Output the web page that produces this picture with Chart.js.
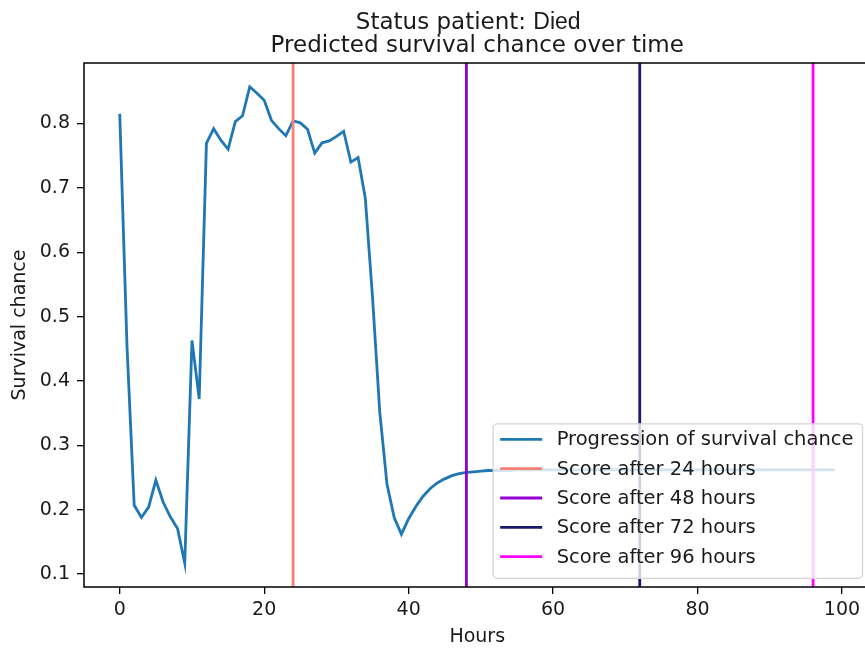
<!DOCTYPE html>
<html>
<head>
<meta charset="utf-8">
<script src="https://cdn.jsdelivr.net/npm/chart.js@4.4.0/dist/chart.umd.min.js"></script>
<style>
  html, body { margin: 0; padding: 0; background: #fff; overflow: hidden; }
  #wrap { width: 872px; height: 650px; }
</style>
</head>
<body>
<div id="wrap"><canvas id="survival_chart" width="872" height="650"></canvas></div>
<script>
// Predicted survival chance, one value per hour (hour = index)
var survival = [
  0.815, 0.455, 0.207, 0.188, 0.204, 0.246, 0.212, 0.189, 0.171, 0.117,
  0.463, 0.372, 0.769, 0.792, 0.774, 0.760, 0.803, 0.812, 0.857, 0.847,
  0.836, 0.805, 0.792, 0.781, 0.804, 0.801, 0.791, 0.754, 0.770, 0.773,
  0.780, 0.788, 0.740, 0.747, 0.684, 0.530, 0.352, 0.240, 0.188, 0.162,
  0.186, 0.205, 0.221, 0.233, 0.242, 0.248, 0.253, 0.256, 0.258, 0.259,
  0.260, 0.261, 0.261, 0.261, 0.261, 0.262, 0.262, 0.262, 0.262, 0.262,
  0.262, 0.262, 0.262, 0.262, 0.262, 0.262, 0.262, 0.262, 0.262, 0.262,
  0.262, 0.262, 0.262, 0.262, 0.262, 0.262, 0.262, 0.262, 0.262, 0.262,
  0.262, 0.262, 0.262, 0.262, 0.262, 0.262, 0.262, 0.262, 0.262, 0.262,
  0.262, 0.262, 0.262, 0.262, 0.262, 0.262, 0.262, 0.262, 0.262, 0.262
];
var scoreHours = [24, 48, 72, 96];
var scoreColors = ['#fa8072', '#9400d3', '#191970', '#ff00ff'];
var legendLabels = [
  'Progression of survival chance',
  'Score after 24 hours',
  'Score after 48 hours',
  'Score after 72 hours',
  'Score after 96 hours'
];
var xTicks = [0, 20, 40, 60, 80, 100];
var yTicks = [0.1, 0.2, 0.3, 0.4, 0.5, 0.6, 0.7, 0.8];
var patientStatus = 'Died';

var lineBlue = '#1f77b4';
var textColor = '#1a1a1a';
Chart.defaults.font.family = '"DejaVu Sans"';

// axis limits with 5% margins, like matplotlib
var xLast = survival.length - 1;
var xMin = -0.05 * xLast, xMax = xLast + 0.05 * xLast;
var sMin = Math.min.apply(null, survival), sMax = Math.max.apply(null, survival);
var yMin = sMin - 0.05 * (sMax - sMin), yMax = sMax + 0.05 * (sMax - sMin);

var datasets = [{
    label: legendLabels[0],
    data: survival.map(function(v, i) { return { x: i, y: v }; }),
    borderColor: lineBlue,
    borderWidth: 2.8,
    pointRadius: 0,
    tension: 0,
    order: 1
}];
scoreHours.forEach(function(h, i) {
    datasets.push({
        label: legendLabels[i + 1],
        data: [{ x: h, y: yMin }, { x: h, y: yMax }],
        borderColor: scoreColors[i],
        borderWidth: 2.8,
        pointRadius: 0,
        order: 0
    });
});

// frame + legend box (drawn over the lines)
var frameAndLegend = {
    id: 'frameAndLegend',
    afterDatasetsDraw: function(chart) {
        var ctx = chart.ctx, ca = chart.chartArea;
        ctx.save();
        ctx.strokeStyle = '#000';
        ctx.lineWidth = 1.5;
        ctx.strokeRect(ca.left, ca.top, ca.right - ca.left, ca.bottom - ca.top);

        ctx.font = '19.5px "DejaVu Sans"';
        var textW = Math.max.apply(null, legendLabels.map(function(t) { return ctx.measureText(t).width; }));
        var boxW = 7 + 42 + 14.5 + textW + 9;
        var boxH = 154.5;
        var right = ca.right - 8, bottom = ca.bottom - 8.7;
        var left = right - boxW, top = bottom - boxH;
        ctx.beginPath();
        ctx.roundRect(left, top, boxW, boxH, 4);
        ctx.fillStyle = 'rgba(255,255,255,0.8)';
        ctx.fill();
        ctx.strokeStyle = '#d4d4d4';
        ctx.lineWidth = 1.3;
        ctx.stroke();

        var colors = [lineBlue].concat(scoreColors);
        legendLabels.forEach(function(label, i) {
            var y = top + 15.5 + i * 29.35;
            ctx.beginPath();
            ctx.moveTo(left + 7, y);
            ctx.lineTo(left + 49, y);
            ctx.strokeStyle = colors[i];
            ctx.lineWidth = 2.8;
            ctx.stroke();
            ctx.fillStyle = textColor;
            ctx.textAlign = 'left';
            ctx.textBaseline = 'middle';
            ctx.fillText(label, left + 63.5, y + 1);
        });
        ctx.restore();
    }
};

// two-line title, first line mixes fonts
var titleLines = {
    id: 'titleLines',
    afterDraw: function(chart) {
        var ctx = chart.ctx, ca = chart.chartArea;
        var cx = (ca.left + ca.right) / 2;
        ctx.save();
        ctx.fillStyle = textColor;
        ctx.textBaseline = 'alphabetic';
        var part1 = 'Status patient: ';
        ctx.font = '23px "DejaVu Sans"';
        var w1 = ctx.measureText(part1).width;
        ctx.font = '23px "Liberation Sans"';
        var w2 = ctx.measureText(patientStatus).width;
        var x0 = cx - 9 - (w1 + w2) / 2;
        ctx.textAlign = 'left';
        ctx.font = '23px "DejaVu Sans"';
        ctx.fillText(part1, x0, 29);
        ctx.font = '23px "Liberation Sans"';
        ctx.fillText(patientStatus, x0 + w1, 29);
        ctx.font = '23px "DejaVu Sans"';
        ctx.textAlign = 'center';
        ctx.fillText('Predicted survival chance over time', cx, 51.5);
        ctx.restore();
    }
};

new Chart(document.getElementById('survival_chart').getContext('2d'), {
    type: 'line',
    data: { datasets: datasets },
    options: {
        responsive: false,
        animation: false,
        layout: { padding: { top: 63, right: 1.5, bottom: 0, left: 0 } },
        plugins: {
            legend: { display: false },
            title: { display: false },
            tooltip: { enabled: false }
        },
        scales: {
            x: {
                type: 'linear',
                min: xMin,
                max: xMax,
                afterBuildTicks: function(scale) {
                    scale.ticks = xTicks.map(function(v) { return { value: v }; });
                },
                afterFit: function(scale) { scale.height = 63; },
                ticks: {
                    color: textColor,
                    font: { size: 19 },
                    padding: 5,
                    maxRotation: 0,
                    autoSkip: false
                },
                grid: { drawOnChartArea: false, drawTicks: true, tickLength: 7, color: '#000', lineWidth: 1.3 },
                border: { display: false },
                title: {
                    display: true,
                    text: 'Hours',
                    color: textColor,
                    font: { size: 19 },
                    padding: { top: 0, bottom: 2 }
                }
            },
            y: {
                type: 'linear',
                min: yMin,
                max: yMax,
                afterBuildTicks: function(scale) {
                    scale.ticks = yTicks.map(function(v) { return { value: v }; });
                },
                afterFit: function(scale) { scale.width = 84; },
                ticks: {
                    color: textColor,
                    font: { size: 19 },
                    padding: 7,
                    callback: function(v) { return v.toFixed(1); }
                },
                grid: { drawOnChartArea: false, drawTicks: true, tickLength: 7, color: '#000', lineWidth: 1.3 },
                border: { display: false },
                title: {
                    display: true,
                    text: 'Survival chance',
                    color: textColor,
                    font: { size: 19 },
                    padding: { top: 9, bottom: 0 }
                }
            }
        }
    },
    plugins: [frameAndLegend, titleLines]
});
</script>
</body>
</html>
